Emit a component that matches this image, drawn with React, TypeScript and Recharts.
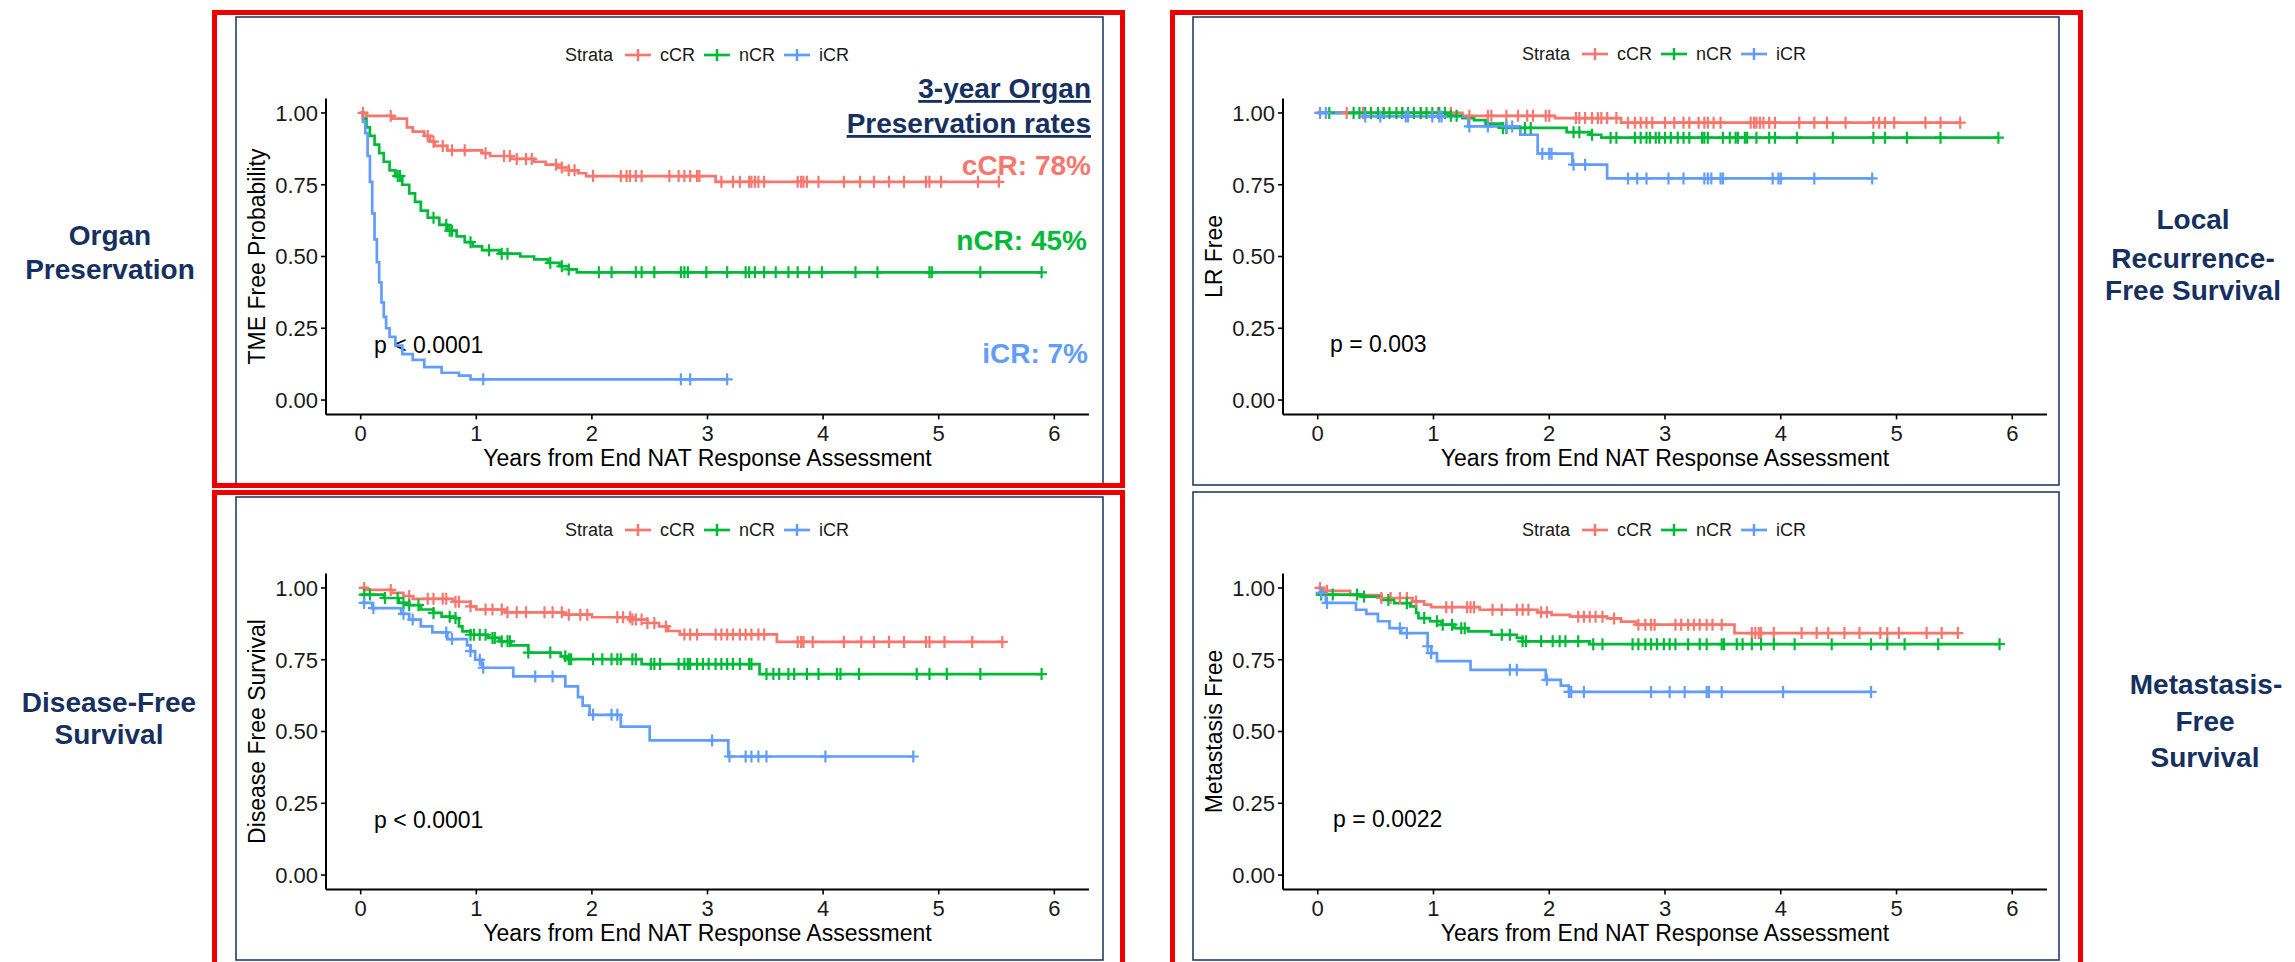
import React from 'react';
import { ComposedChart, Line, XAxis, YAxis, Label } from 'recharts';

type Step = [number, number];

const strataNames = ['cCR', 'nCR', 'iCR'];
const strataColors = ['#F8766D', '#00BA38', '#619CFF'];
const xTicks = [0, 1, 2, 3, 4, 5, 6];
const yTicks = [0, 0.25, 0.5, 0.75, 1];
const xTitle = 'Years from End NAT Response Assessment';

// Organ preservation (TME free)
const opCcrSteps: Step[] = [[0, 1], [0.05, 0.99], [0.27, 0.98], [0.4, 0.95], [0.45, 0.935], [0.55, 0.92], [0.6, 0.9], [0.64, 0.885], [0.75, 0.87], [1.05, 0.86], [1.12, 0.85], [1.3, 0.84], [1.5, 0.83], [1.6, 0.82], [1.7, 0.81], [1.8, 0.8], [1.88, 0.79], [1.95, 0.78], [3.07, 0.76]];
const opCcrCens = [0.02, 0.26, 0.58, 0.63, 0.71, 0.79, 0.9, 1.08, 1.24, 1.29, 1.35, 1.43, 1.48, 1.69, 1.74, 1.8, 1.85, 2.01, 2.25, 2.3, 2.33, 2.38, 2.43, 2.67, 2.75, 2.8, 2.85, 2.91, 2.93, 3.12, 3.22, 3.28, 3.36, 3.38, 3.41, 3.44, 3.49, 3.78, 3.81, 3.83, 3.86, 3.96, 4.18, 4.32, 4.44, 4.57, 4.7, 4.89, 4.92, 5.02, 5.34, 5.52];
const opNcrSteps: Step[] = [[0, 1], [0.02, 0.98], [0.05, 0.95], [0.08, 0.92], [0.12, 0.89], [0.16, 0.86], [0.2, 0.83], [0.25, 0.8], [0.3, 0.78], [0.36, 0.75], [0.42, 0.72], [0.47, 0.69], [0.52, 0.66], [0.58, 0.635], [0.68, 0.61], [0.75, 0.59], [0.83, 0.57], [0.9, 0.55], [0.97, 0.535], [1.05, 0.522], [1.2, 0.51], [1.38, 0.5], [1.5, 0.49], [1.62, 0.478], [1.72, 0.466], [1.8, 0.455], [1.87, 0.445]];
const opNcrCens = [0.32, 0.34, 0.63, 0.74, 0.77, 0.79, 0.95, 1.11, 1.22, 1.27, 1.64, 1.74, 1.8, 2.06, 2.17, 2.38, 2.43, 2.54, 2.77, 2.8, 2.83, 2.99, 3.17, 3.33, 3.36, 3.41, 3.49, 3.59, 3.7, 3.78, 3.88, 3.99, 4.28, 4.47, 4.92, 4.94, 5.36, 5.89];
const opIcrSteps: Step[] = [[0, 1], [0.02, 0.97], [0.04, 0.93], [0.06, 0.85], [0.08, 0.76], [0.1, 0.65], [0.12, 0.56], [0.14, 0.48], [0.16, 0.41], [0.18, 0.34], [0.2, 0.29], [0.22, 0.25], [0.25, 0.22], [0.3, 0.19], [0.36, 0.16], [0.45, 0.14], [0.55, 0.115], [0.7, 0.095], [0.85, 0.085], [0.95, 0.072]];
const opIcrCens = [1.06, 2.77, 2.85, 3.17];

// Local recurrence free
const lrCcrSteps: Step[] = [[0, 1], [1.25, 0.99], [2.05, 0.982], [2.62, 0.966]];
const lrCcrCens = [0.02, 0.25, 0.39, 0.46, 0.57, 0.73, 0.89, 1.04, 1.15, 1.31, 1.47, 1.5, 1.63, 1.73, 1.81, 1.86, 1.97, 2.0, 2.23, 2.26, 2.31, 2.37, 2.42, 2.45, 2.5, 2.58, 2.68, 2.74, 2.79, 2.84, 2.89, 3.0, 3.08, 3.16, 3.21, 3.29, 3.34, 3.37, 3.42, 3.48, 3.74, 3.77, 3.79, 3.82, 3.85, 3.9, 3.95, 4.16, 4.29, 4.4, 4.56, 4.8, 4.85, 4.9, 4.98, 5.25, 5.38, 5.55];
const lrNcrSteps: Step[] = [[0, 1], [1.12, 0.99], [1.25, 0.982], [1.35, 0.975], [1.45, 0.963], [1.6, 0.948], [2.15, 0.933], [2.35, 0.924], [2.45, 0.914]];
const lrNcrCens = [0.1, 0.31, 0.36, 0.41, 0.46, 0.52, 0.57, 0.62, 0.68, 0.73, 0.78, 0.83, 0.89, 0.94, 0.99, 1.05, 1.1, 1.15, 1.2, 1.6, 1.63, 1.79, 1.84, 2.21, 2.26, 2.37, 2.53, 2.58, 2.74, 2.79, 2.84, 2.87, 2.92, 2.95, 3.0, 3.05, 3.11, 3.16, 3.21, 3.32, 3.34, 3.37, 3.5, 3.56, 3.61, 3.63, 3.69, 3.71, 3.79, 3.9, 3.95, 4.14, 4.45, 4.8, 4.9, 5.09, 5.38, 5.88];
const lrIcrSteps: Step[] = [[0, 1], [0.4, 0.988], [1.3, 0.953], [1.75, 0.924], [1.9, 0.858], [2.2, 0.82], [2.5, 0.772]];
const lrIcrCens = [0.02, 0.07, 0.41, 0.54, 0.76, 0.78, 0.99, 1.05, 1.07, 1.31, 1.47, 1.63, 1.68, 1.94, 2.0, 2.02, 2.21, 2.31, 2.68, 2.76, 2.84, 3.03, 3.16, 3.34, 3.37, 3.4, 3.48, 3.5, 3.93, 3.98, 4.0, 4.29, 4.79];

// Disease free survival
const dfsCcrSteps: Step[] = [[0, 1], [0.05, 0.993], [0.27, 0.983], [0.37, 0.972], [0.45, 0.962], [0.8, 0.952], [0.95, 0.936], [1.0, 0.925], [1.25, 0.915], [1.75, 0.907], [2.0, 0.898], [2.35, 0.89], [2.48, 0.878], [2.58, 0.866], [2.66, 0.85], [2.76, 0.838], [3.6, 0.812]];
const dfsCcrCens = [0.03, 0.26, 0.42, 0.58, 0.63, 0.71, 0.74, 0.82, 0.85, 0.95, 1.08, 1.14, 1.22, 1.27, 1.35, 1.43, 1.59, 1.66, 1.74, 1.8, 1.9, 1.96, 2.22, 2.27, 2.33, 2.35, 2.38, 2.43, 2.48, 2.54, 2.64, 2.8, 2.85, 2.91, 3.07, 3.12, 3.17, 3.22, 3.28, 3.33, 3.38, 3.44, 3.49, 3.78, 3.81, 3.83, 3.91, 4.18, 4.33, 4.44, 4.57, 4.7, 4.89, 4.92, 5.05, 5.29, 5.55];
const dfsNcrSteps: Step[] = [[0, 0.977], [0.2, 0.965], [0.33, 0.948], [0.42, 0.94], [0.52, 0.925], [0.63, 0.913], [0.7, 0.9], [0.82, 0.895], [0.85, 0.866], [0.88, 0.849], [0.95, 0.837], [1.1, 0.826], [1.2, 0.814], [1.3, 0.8], [1.45, 0.775], [1.73, 0.762], [1.8, 0.752], [2.43, 0.735], [3.45, 0.7]];
const dfsNcrCens = [0.03, 0.08, 0.21, 0.32, 0.37, 0.42, 0.5, 0.63, 0.77, 0.82, 0.95, 0.98, 1.03, 1.08, 1.14, 1.16, 1.22, 1.27, 1.29, 1.45, 1.64, 1.77, 1.8, 1.82, 2.01, 2.09, 2.17, 2.22, 2.25, 2.35, 2.38, 2.51, 2.54, 2.59, 2.75, 2.8, 2.83, 2.85, 2.91, 2.96, 3.01, 3.07, 3.12, 3.17, 3.22, 3.28, 3.36, 3.38, 3.51, 3.57, 3.62, 3.7, 3.75, 3.86, 3.96, 4.12, 4.15, 4.31, 4.81, 4.92, 5.07, 5.36, 5.89];
const dfsIcrSteps: Step[] = [[0, 0.948], [0.1, 0.93], [0.35, 0.91], [0.42, 0.89], [0.52, 0.866], [0.62, 0.845], [0.75, 0.822], [0.92, 0.8], [0.95, 0.78], [0.99, 0.75], [1.05, 0.722], [1.32, 0.692], [1.77, 0.657], [1.88, 0.62], [1.92, 0.59], [1.98, 0.558], [2.25, 0.517], [2.5, 0.469], [3.18, 0.413]];
const dfsIcrCens = [0.03, 0.11, 0.37, 0.45, 0.74, 0.79, 0.95, 1.03, 1.06, 1.51, 1.66, 2.01, 2.17, 2.22, 3.04, 3.19, 3.33, 3.38, 3.44, 3.51, 4.02, 4.78];

// Metastasis free
const mfsCcrSteps: Step[] = [[0, 1], [0.05, 0.99], [0.28, 0.975], [0.55, 0.965], [0.82, 0.953], [0.92, 0.942], [0.98, 0.933], [1.4, 0.924], [1.9, 0.915], [2.02, 0.906], [2.18, 0.9], [2.5, 0.894], [2.62, 0.883], [2.75, 0.872], [3.6, 0.843]];
const mfsCcrCens = [0.02, 0.08, 0.55, 0.63, 0.71, 0.77, 0.85, 1.11, 1.16, 1.29, 1.32, 1.35, 1.51, 1.59, 1.72, 1.77, 1.82, 1.93, 1.98, 2.25, 2.3, 2.35, 2.4, 2.46, 2.56, 2.77, 2.83, 2.88, 2.91, 3.09, 3.14, 3.2, 3.25, 3.3, 3.36, 3.41, 3.49, 3.75, 3.78, 3.81, 3.83, 3.94, 4.18, 4.31, 4.41, 4.55, 4.68, 4.86, 4.92, 5.02, 5.26, 5.39, 5.53];
const mfsNcrSteps: Step[] = [[0, 0.977], [0.38, 0.97], [0.55, 0.958], [0.66, 0.947], [0.8, 0.936], [0.85, 0.913], [0.87, 0.895], [0.97, 0.884], [1.07, 0.872], [1.18, 0.86], [1.3, 0.849], [1.5, 0.837], [1.72, 0.826], [1.77, 0.814], [2.35, 0.804]];
const mfsNcrCens = [0.03, 0.13, 0.34, 0.4, 0.61, 0.77, 0.92, 1.03, 1.08, 1.16, 1.24, 1.27, 1.59, 1.66, 1.77, 1.8, 1.93, 2.03, 2.09, 2.14, 2.25, 2.38, 2.46, 2.72, 2.77, 2.83, 2.88, 2.93, 2.99, 3.04, 3.09, 3.2, 3.3, 3.36, 3.49, 3.51, 3.62, 3.67, 3.75, 3.83, 3.94, 4.12, 4.44, 4.78, 4.92, 5.07, 5.36, 5.89];
const mfsIcrSteps: Step[] = [[0, 0.983], [0.07, 0.948], [0.33, 0.924], [0.42, 0.91], [0.52, 0.884], [0.62, 0.86], [0.72, 0.843], [0.95, 0.797], [0.98, 0.773], [1.03, 0.745], [1.32, 0.715], [1.97, 0.68], [2.1, 0.66], [2.17, 0.638]];
const mfsIcrCens = [0.03, 0.08, 0.71, 0.77, 0.95, 0.98, 1.66, 1.72, 1.98, 2.17, 2.19, 2.3, 2.88, 3.04, 3.17, 3.36, 3.38, 3.49, 4.02, 4.78];

const NAVY = '#16305f';
const RED = '#ee0000';
const FONT = 'Arial, "Liberation Sans", Helvetica, sans-serif';

// merge KM steps and censor times into one series, censor marks sit on the current level
function kmPoints(steps: Step[], cens: number[]) {
  const pts = steps.map(([t, s]) => ({ t, s, c: 0 }));
  cens.forEach((t) => {
    let s = steps[0][1];
    for (const [ts, ss] of steps) if (ts <= t) s = ss;
    pts.push({ t, s, c: 1 });
  });
  return pts.sort((a, b) => a.t - b.t || a.c - b.c);
}

function renderCensor(p: any, color: string) {
  const { cx, cy, payload, index } = p;
  if (!payload || payload.c !== 1 || cx == null || cy == null) return <g key={`n${index}`} />;
  return (
    <g key={`c${index}`}>
      <line x1={cx} x2={cx} y1={cy - 6} y2={cy + 6} stroke={color} strokeWidth={2.2} />
      <line x1={cx - 5.5} x2={cx + 5.5} y1={cy} y2={cy} stroke={color} strokeWidth={2.2} />
    </g>
  );
}

interface PanelProps {
  box: { x: number; y: number; w: number; h: number };
  plot: { x0: number; x1: number; y0: number; y1: number };
  series: { t: number; s: number; c: number }[][];
  yLabel: string;
}

function KMPanel({ box, plot, series, yLabel }: PanelProps) {
  const yAxisW = 80;
  const xAxisH = 30;
  const margin = {
    left: plot.x0 - box.x - yAxisW,
    right: box.x + box.w - plot.x1,
    top: plot.y0 - box.y,
    bottom: box.y + box.h - plot.y1 - xAxisH,
  };
  return (
    <div style={{ position: 'absolute', left: box.x, top: box.y }}>
      <ComposedChart width={box.w} height={box.h} margin={margin}>
        <XAxis
          type="number"
          dataKey="t"
          domain={[-0.3, 6.3]}
          ticks={xTicks}
          allowDataOverflow
          height={xAxisH}
          tickSize={5}
          tickMargin={6}
          axisLine={{ stroke: '#000', strokeWidth: 2 }}
          tickLine={{ stroke: '#000', strokeWidth: 1.6 }}
          tick={{ fill: '#1a1a1a', fontSize: 22, fontFamily: FONT }}
        >
          <Label value={xTitle} position="bottom" offset={5} style={{ fontSize: 23, fill: '#000', fontFamily: FONT }} />
        </XAxis>
        <YAxis
          type="number"
          domain={[-0.05, 1.05]}
          ticks={yTicks}
          allowDataOverflow
          width={yAxisW}
          tickSize={5}
          tickMargin={3}
          tickFormatter={(v: number) => v.toFixed(2)}
          axisLine={{ stroke: '#000', strokeWidth: 2 }}
          tickLine={{ stroke: '#000', strokeWidth: 1.6 }}
          tick={{ fill: '#1a1a1a', fontSize: 22, fontFamily: FONT }}
        >
          <Label value={yLabel} angle={-90} position="insideLeft" offset={11} style={{ textAnchor: 'middle', fontSize: 23, fill: '#000', fontFamily: FONT }} />
        </YAxis>
        {series.map((d, i) => (
          <Line
            key={strataNames[i]}
            data={d}
            dataKey="s"
            type="stepAfter"
            stroke={strataColors[i]}
            strokeWidth={2.7}
            dot={(p: any) => renderCensor(p, strataColors[i])}
            activeDot={false}
            isAnimationActive={false}
          />
        ))}
      </ComposedChart>
    </div>
  );
}

function StrataLegend({ cx, cy }: { cx: number; cy: number }) {
  return (
    <div
      style={{
        position: 'absolute', left: cx, top: cy - 10, transform: 'translateX(-50%)',
        display: 'flex', alignItems: 'center', fontSize: 18, lineHeight: '20px',
        fontFamily: FONT, color: '#1a1a1a', whiteSpace: 'nowrap',
      }}
    >
      <span style={{ marginRight: 12 }}>Strata</span>
      {strataNames.map((n, i) => (
        <React.Fragment key={n}>
          <svg width={26} height={14} style={{ marginRight: 9 }}>
            <line x1={0} x2={26} y1={7} y2={7} stroke={strataColors[i]} strokeWidth={2.7} />
            <line x1={13} x2={13} y1={1} y2={13} stroke={strataColors[i]} strokeWidth={2.5} />
          </svg>
          <span style={{ marginRight: i < 2 ? 9 : 0 }}>{n}</span>
        </React.Fragment>
      ))}
    </div>
  );
}

export default function App() {
  const side = { fontFamily: FONT, fontWeight: 700, fontSize: 28, fill: NAVY, textAnchor: 'middle' as const };
  const ann = { fontFamily: FONT, fontWeight: 700, fontSize: 28, textAnchor: 'end' as const };
  const pv = { fontFamily: FONT, fontSize: 23, fill: '#000' };
  return (
    <div style={{ position: 'absolute', left: 0, top: 0, width: 2295, height: 962, overflow: 'hidden', background: '#fff' }}>
      <svg width={2295} height={962} style={{ position: 'absolute', left: 0, top: 0 }}>
        <rect x={236} y={17} width={867} height={468} fill="none" stroke={NAVY} strokeWidth={1.5} />
        <rect x={236} y={497} width={867} height={463} fill="none" stroke={NAVY} strokeWidth={1.5} />
        <rect x={1193} y={17} width={866} height={468} fill="none" stroke={NAVY} strokeWidth={1.5} />
        <rect x={1193} y={492} width={866} height={468} fill="none" stroke={NAVY} strokeWidth={1.5} />
        <rect x={214.5} y={12.5} width={908} height={473} fill="none" stroke={RED} strokeWidth={5} />
        <rect x={214.5} y={492.5} width={908} height={490} fill="none" stroke={RED} strokeWidth={5} />
        <rect x={1172.5} y={12.5} width={908} height={970} fill="none" stroke={RED} strokeWidth={5} />

        <text x={110} y={245} style={side}>Organ</text>
        <text x={110} y={279} style={side}>Preservation</text>
        <text x={109} y={712} style={side}>Disease-Free</text>
        <text x={109} y={744} style={side}>Survival</text>
        <text x={2193} y={229} style={side}>Local</text>
        <text x={2193} y={268} style={side}>Recurrence-</text>
        <text x={2193} y={300} style={side}>Free Survival</text>
        <text x={2206} y={694} style={side}>Metastasis-</text>
        <text x={2205} y={731} style={side}>Free</text>
        <text x={2205} y={767} style={side}>Survival</text>

        <text x={1091} y={98} style={{ ...ann, fill: NAVY, textDecoration: 'underline' }}>3-year Organ</text>
        <text x={1091} y={133} style={{ ...ann, fill: NAVY, textDecoration: 'underline' }}>Preservation rates</text>
        <text x={1091} y={175} style={{ ...ann, fill: strataColors[0] }}>cCR: 78%</text>
        <text x={1087} y={250} style={{ ...ann, fill: strataColors[1] }}>nCR: 45%</text>
        <text x={1088} y={363} style={{ ...ann, fill: strataColors[2] }}>iCR: 7%</text>

        <text x={374} y={353} style={pv}>p &lt; 0.0001</text>
        <text x={374} y={828} style={pv}>p &lt; 0.0001</text>
        <text x={1330} y={352} style={pv}>p = 0.003</text>
        <text x={1333} y={827} style={pv}>p = 0.0022</text>
      </svg>

      <KMPanel
        box={{ x: 236, y: 17, w: 867, h: 468 }}
        plot={{ x0: 326, x1: 1089, y0: 98.6, y1: 414.4 }}
        series={[kmPoints(opCcrSteps, opCcrCens), kmPoints(opNcrSteps, opNcrCens), kmPoints(opIcrSteps, opIcrCens)]}
        yLabel="TME Free Probability"
      />
      <KMPanel
        box={{ x: 236, y: 497, w: 867, h: 463 }}
        plot={{ x0: 326, x1: 1089, y0: 573.6, y1: 889.4 }}
        series={[kmPoints(dfsCcrSteps, dfsCcrCens), kmPoints(dfsNcrSteps, dfsNcrCens), kmPoints(dfsIcrSteps, dfsIcrCens)]}
        yLabel="Disease Free Survival"
      />
      <KMPanel
        box={{ x: 1193, y: 17, w: 866, h: 468 }}
        plot={{ x0: 1283, x1: 2047, y0: 98.6, y1: 414.4 }}
        series={[kmPoints(lrCcrSteps, lrCcrCens), kmPoints(lrNcrSteps, lrNcrCens), kmPoints(lrIcrSteps, lrIcrCens)]}
        yLabel="LR Free"
      />
      <KMPanel
        box={{ x: 1193, y: 492, w: 866, h: 468 }}
        plot={{ x0: 1283, x1: 2047, y0: 573.6, y1: 889.4 }}
        series={[kmPoints(mfsCcrSteps, mfsCcrCens), kmPoints(mfsNcrSteps, mfsNcrCens), kmPoints(mfsIcrSteps, mfsIcrCens)]}
        yLabel="Metastasis Free"
      />

      <StrataLegend cx={707} cy={55} />
      <StrataLegend cx={707} cy={530} />
      <StrataLegend cx={1664} cy={54} />
      <StrataLegend cx={1664} cy={530} />
    </div>
  );
}
